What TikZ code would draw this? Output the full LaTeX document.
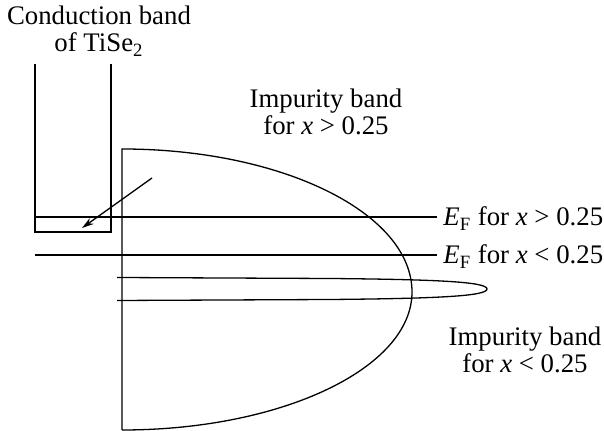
\documentclass[tikz,border=0pt]{standalone}
\usepackage{fontspec}
\setmainfont{Liberation Serif}
\usepackage{tikz}
\usetikzlibrary{arrows.meta}

\begin{document}
\begin{tikzpicture}[x=0.5pt, y=-0.5pt,
  thin line/.style={line width=0.65pt},
  level line/.style={line width=1.25pt},
  label text/.style={inner sep=0pt, font=\fontsize{13.4}{13.5}\selectfont, align=center}]
\useasboundingbox (0,0) rectangle (604,431);

% conduction band of TiSe2
\draw[thin line] (35,64) -- (35,232) -- (111,232) -- (111,64);
\node[label text, anchor=base] (cblabel) at (99,52) {Conduction band\\of TiSe\textsubscript{2}};

% wide impurity band
\draw[thin line] (122,430) -- (122,149)
  .. controls (282,149) and (412,213) .. (412,292)
  .. controls (412,368) and (282,430) .. (122,430);
\node[label text, anchor=base] (widelabel) at (326,135) {Impurity band\\for \textit{x} > 0.25};

% narrow impurity band
\draw[thin line] (117,277.5) -- (330,278.5)
  .. controls (440,279.5) and (487,282) .. (487,289)
  .. controls (487,296) and (440,298.5) .. (330,299.5) -- (117,300.5);
\node[label text, anchor=base] (narrowlabel) at (525,373) {Impurity band\\for \textit{x} < 0.25};

% Fermi levels
\coordinate (efhi) at (35,217);
\coordinate (eflo) at (35,255);
\node[label text, inner xsep=3pt, anchor=base west] (efhilabel) at (437,226) {\textit{E}\textsubscript{F} for \textit{x} > 0.25};
\node[label text, inner xsep=3pt, anchor=base west] (eflolabel) at (437,264) {\textit{E}\textsubscript{F} for \textit{x} < 0.25};
\draw[level line] (efhi) -- (efhi -| efhilabel.west);
\draw[level line] (eflo) -- (eflo -| eflolabel.west);

% electrons move into the conduction band
\coordinate (arrowtail) at (152,178);
\coordinate (arrowhead) at (82,228);
\draw[thin line, -{Stealth[length=6pt, width=3.5pt]}] (arrowtail) -- (arrowhead);
\end{tikzpicture}
\end{document}
